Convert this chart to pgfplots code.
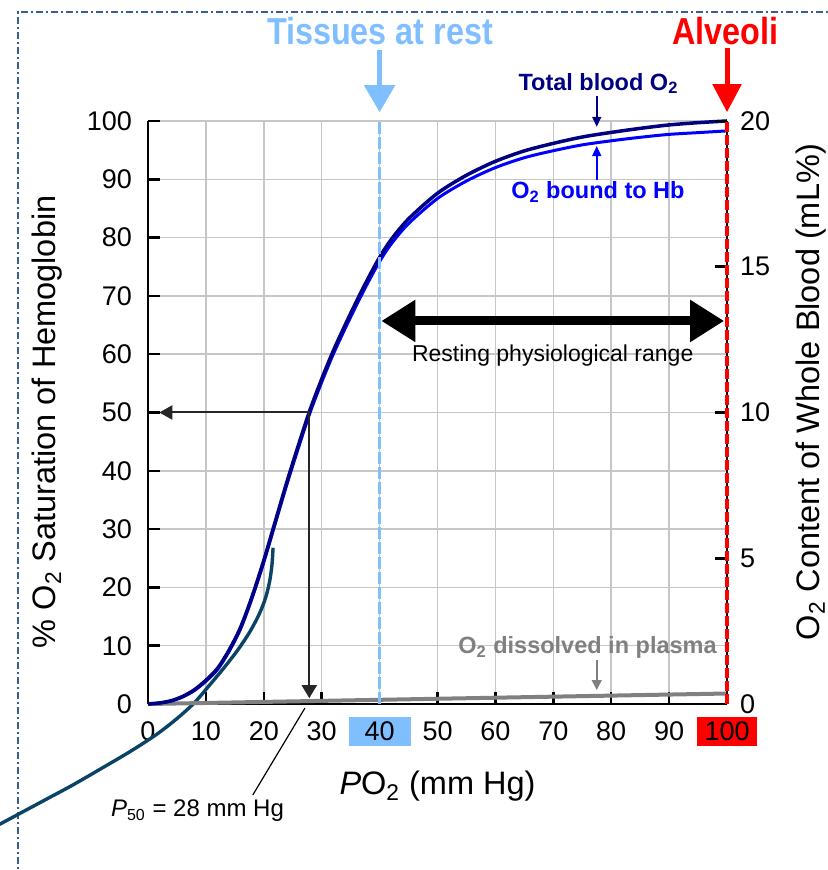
\documentclass[border=0pt]{standalone}
\usepackage{fontspec}
\setmainfont{Liberation Sans}
\newfontfamily\narrowsans[FakeStretch=0.86]{Liberation Sans}
\usepackage{pgfplots}
\usepackage{pgfplotstable}
\pgfplotsset{compat=1.18}
\usetikzlibrary{arrows.meta}

\definecolor{totalc}{HTML}{000080}
\definecolor{boundc}{HTML}{0000FF}
\definecolor{plasmac}{HTML}{808080}
\definecolor{strayc}{HTML}{0B4366}
\definecolor{tissuec}{HTML}{80BFFF}
\definecolor{framec}{HTML}{3A5F8A}
\definecolor{annc}{HTML}{262626}

% coloured box behind a tick label, without changing the label's height
\newcommand\hlbox[3]{\smash{\setlength{\fboxsep}{2.65pt}\colorbox{#1}{\makebox[#2]{#3}}}\vphantom{0}}

% PO2 (mm Hg) vs % saturation
\pgfplotstableread{
x bound total
0 0 0
2 0.15 0.19
4 0.5 0.57
6 1.2 1.31
8 2.3 2.44
10 3.9 4.08
12 5.9 6.12
14 9.0 9.25
16 12.9 13.19
18 18.2 18.52
20 24.3 24.66
22 31.0 31.4
24 37.7 38.13
26 44.0 44.47
28 50.0 50.5
30 55.2 55.74
32 60.0 60.58
34 64.3 64.91
36 68.4 69.05
38 72.3 72.98
40 75.9 76.62
42 78.9 79.66
45 82.4 83.21
50 86.7 87.6
55 89.7 90.69
60 92.0 93.08
65 93.7 94.87
70 94.9 96.16
75 95.9 97.25
80 96.6 98.04
85 97.2 98.73
90 97.7 99.32
95 98.0 99.71
100 98.3 100
}\hbcurve

\pgfplotstableread{
x y
0 0
25 0.45
50 0.9
75 1.35
100 1.8
}\plasma

\pgfplotstableread{
x y
21.6 26.8
21.4 23.8
21.0 21.0
20.3 18.2
19.2 15.4
17.6 12.4
15.6 9.4
13.2 6.3
10.6 3.2
8.0 0.2
5.0 -2.5
1.5 -5.2
-3.0 -8.1
-8.3 -11.2
-13.0 -13.9
-17.5 -16.3
-22.0 -18.7
-28.2 -22.0
}\stray

\begin{document}
\begin{tikzpicture}
\begin{axis}[
  scale only axis,
  width=289.5pt, height=291.5pt,
  xmin=0, xmax=100, ymin=0, ymax=100,
  axis x line*=bottom, axis y line*=left,
  axis line style={line width=1.25pt, -},
  xtick={0,10,...,100},
  xticklabels={0,10,20,30,\hlbox{tissuec}{25.7pt}{40},50,60,70,80,90,\hlbox{red}{24.7pt}{100}},
  ytick={0,10,...,100},
  tick align=inside,
  major tick length=6pt,
  tick style={black, line width=1.25pt},
  grid=major,
  major grid style={gray!45, line width=0.75pt},
  /pgf/number format/assume math mode=true,
  tick label style={font=\fontsize{13.5}{16}\selectfont},
  xticklabel style={yshift=-5.5pt},
  yticklabel style={xshift=-4.5pt},
  label style={font=\fontsize{16.25}{19}\selectfont},
  xlabel={\textit{P}O\textsubscript{2} (mm Hg)},
  xlabel style={at={(rel axis cs:0.5,-0.156)}, anchor=base},
  ylabel={\% O\textsubscript{2} Saturation of Hemoglobin},
  ylabel style={at={(rel axis cs:-0.159,0.484)}, anchor=base, rotate=0},
  clip=false,
]
\coordinate (bbsw) at (axis cs:-25.56,-28.47);
\coordinate (bbne) at (axis cs:117.27,120.75);

% slide frame
\draw[framec, line width=1pt, dash pattern=on 3.5pt off 1.5pt on 1pt off 1.5pt]
  (axis cs:-22.45,-30) -- (axis cs:-22.45,118.7) -- (axis cs:120,118.7);

\addplot[strayc, line width=1.7pt, smooth] table[x=x, y=y] {\stray};
\addplot[plasmac, line width=2pt] table[x=x, y=y] {\plasma};
\addplot[boundc, line width=1.5pt, smooth] table[x=x, y=bound] {\hbcurve};
\addplot[totalc, line width=1.75pt, smooth] table[x=x, y=total] {\hbcurve};

% tissues at rest
\draw[tissuec, line width=1.6pt, dash pattern=on 6pt off 1.5pt] (axis cs:40,0) -- (axis cs:40,100);
\draw[tissuec, line width=2.5pt, -{Triangle[width=15pt,length=13.5pt]}]
  (axis cs:40,112.2) -- (axis cs:40,101.5);
\node[tissuec, anchor=base, font=\narrowsans\bfseries\fontsize{18.8}{22}\selectfont]
  at (axis cs:40.07,113.04) {Tissues at rest};

% alveoli
\draw[red, line width=2.5pt, -{Triangle[width=14pt,length=14pt]}]
  (axis cs:100,112.5) -- (axis cs:100,101.5);
\node[red, anchor=base, font=\narrowsans\bfseries\fontsize{18.8}{22}\selectfont]
  at (axis cs:99.7,113.04) {Alveoli};

% curve labels
\node[totalc, anchor=base, font=\bfseries\fontsize{11.75}{14}\selectfont]
  at (axis cs:77.8,105.3) {Total blood O\textsubscript{2}};
\draw[totalc, line width=0.75pt, -{Triangle[width=4.5pt,length=5pt]}]
  (axis cs:77.5,104.3) -- (axis cs:77.5,99.0);
\node[boundc, anchor=base, font=\bfseries\fontsize{11.75}{14}\selectfont]
  at (axis cs:77.7,86.7) {O\textsubscript{2} bound to Hb};
\draw[boundc, line width=0.75pt, -{Triangle[width=4.5pt,length=5pt]}]
  (axis cs:77.5,89.9) -- (axis cs:77.5,95.7);
\node[plasmac, anchor=base, font=\bfseries\fontsize{11.75}{14}\selectfont]
  at (axis cs:75.9,8.63) {O\textsubscript{2} dissolved in plasma};
\draw[plasmac, line width=0.75pt, -{Triangle[width=5pt,length=5pt]}]
  (axis cs:77.5,7.6) -- (axis cs:77.5,2.4);

% resting range
\draw[black, line width=4.5pt, {Triangle[width=20pt,length=17pt]}-{Triangle[width=20pt,length=17pt]}]
  (axis cs:40.3,65.7) -- (axis cs:99.5,65.7);
\node[anchor=base, font=\fontsize{11.5}{14}\selectfont]
  at (axis cs:69.9,58.7) {Resting physiological range};

% P50
\draw[annc, line width=1pt, line join=miter,
  {Triangle[width=7pt,length=6.5pt]}-{Triangle[width=7.5pt,length=6.5pt]}]
  (axis cs:1.95,50) -- (axis cs:27.86,50) -- (axis cs:27.86,1.0);
\draw[black, line width=0.6pt] (axis cs:27.1,-0.7) -- (axis cs:18.1,-15.6);
\node[anchor=base, font=\fontsize{12}{14}\selectfont]
  at (axis cs:8.55,-19.35) {\textit{P}\textsubscript{50} = 28 mm Hg};
\end{axis}

\begin{axis}[
  scale only axis,
  width=289.5pt, height=291.5pt,
  xmin=0, xmax=100, ymin=0, ymax=20,
  axis x line=none, axis y line*=right,
  axis line style={line width=1.25pt, -},
  ytick={0,5,10,15,20},
  tick align=inside,
  major tick length=6pt,
  tick style={black, line width=1.25pt},
  /pgf/number format/assume math mode=true,
  tick label style={font=\fontsize{13.5}{16}\selectfont},
  yticklabel style={anchor=west, xshift=3pt},
  label style={font=\fontsize{16.25}{19}\selectfont},
  ylabel={O\textsubscript{2} Content of Whole Blood (mL\%)},
  ylabel style={at={(rel axis cs:1.16,0.535)}, anchor=base, rotate=0},
  clip=false,
]
\addplot[draw=none] coordinates {(0,0) (100,20)};
\draw[red, line width=1.75pt, dash pattern=on 5pt off 1.5pt] (axis cs:100,0) -- (axis cs:100,20);
\end{axis}

\pgfresetboundingbox
\path[use as bounding box] (bbsw) rectangle (bbne);
\end{tikzpicture}
\end{document}
